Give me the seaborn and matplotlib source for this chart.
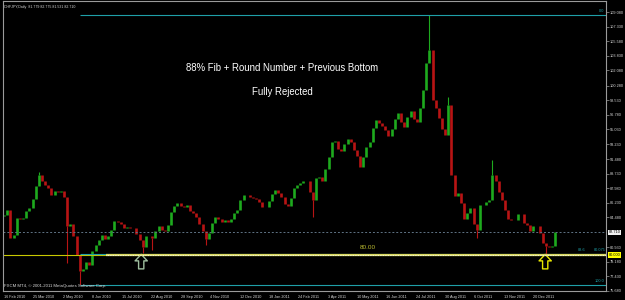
import matplotlib
matplotlib.use("Agg")
import matplotlib.pyplot as plt
import matplotlib.dates as mdates
from matplotlib.path import Path
import numpy as np
import pandas as pd
import seaborn as sns

# ---------------- data ----------------
symbol_header = "CHFJPY,Daily  81.779 82.775 81.531 82.710"
copyright_text = "FXCM MT4, \u00a9 2001-2011 MetaQuotes Software Corp."
title_line1 = "88% Fib + Round Number + Previous Bottom"
title_line2 = "Fully Rejected"

start_date = "2010-02-16"
sample_step = "4D"
first_open = 84.6
closes = [
    84.78, 85.38, 82.03, 82.40, 84.40, 84.30, 84.40, 85.25, 85.60, 86.70,
    88.25, 89.60, 88.85, 88.40, 88.00, 87.20, 87.65, 87.50, 87.65, 86.95,
    83.46, 83.70, 82.27, 80.00, 78.08, 78.30, 79.15, 78.80, 80.47, 81.20,
    81.80, 82.40, 81.90, 82.27, 83.00, 84.06, 83.94, 83.70, 83.22, 83.34,
    83.22, 83.22, 82.50, 81.80, 80.95, 82.27, 82.27, 82.00, 82.87, 83.46,
    83.00, 82.87, 83.58, 85.14, 85.86, 86.22, 85.86, 85.74, 85.98, 85.26,
    85.02, 84.54, 83.70, 82.87, 81.90, 82.60, 83.82, 84.54, 84.30, 83.94,
    84.18, 83.94, 84.30, 85.02, 85.38, 86.58, 87.20, 87.20, 86.93, 86.80,
    86.70, 86.34, 85.74, 85.74, 86.46, 87.30, 87.77, 87.41, 86.93, 86.10,
    85.86, 86.80, 88.00, 88.37, 88.60, 88.85, 88.85, 87.53, 86.58, 89.20,
    89.33, 88.85, 90.30, 91.72, 93.50, 93.64, 92.68, 92.44, 93.28, 93.88,
    93.50, 92.56, 91.84, 90.53, 91.72, 92.92, 93.52, 95.20, 96.15, 95.80,
    95.43, 94.96, 94.24, 95.07, 96.27, 97.00, 95.90, 95.31, 96.50, 97.23,
    96.27, 95.90, 97.60, 99.74, 102.97, 104.50, 98.55, 97.60, 96.40, 95.07,
    94.36, 97.95, 89.57, 87.05, 87.41, 86.22, 84.30, 85.02, 85.62, 83.70,
    83.00, 85.98, 85.98, 86.34, 86.58, 89.57, 88.85, 87.53, 86.58, 85.38,
    84.30, 84.18, 84.18, 84.90, 84.90, 83.82, 83.58, 82.87, 83.46, 83.46,
    82.63, 81.43, 81.07, 80.95, 81.07, 82.71,
]
spike_low_idx = [20, 24, 44, 47, 64, 98, 150, 172]
spike_low_val = [79.0, 76.40, 80.2, 80.6, 81.2, 84.5, 82.0, 80.1]
spike_high_idx = [11, 135, 141, 155]
spike_high_val = [89.9, 108.72, 98.9, 91.4]

fib_high = 108.72
fib_low = 76.40
fib_886 = 80.075
fib_start = "2010-05-23"
round_number = 80.00
zone_start = "2010-06-25"
zone_label = "80.00"
zone_label_date = "2011-05-24"
zone_label_price = 80.85
last_price = 82.71
arrow_dates = ["2010-08-09", "2012-01-04"]
arrow_price = 79.2

date_tick_labels = ["16 Feb 2010", "25 Mar 2010", "2 May 2010", "8 Jun 2010",
                    "15 Jul 2010", "22 Aug 2010", "28 Sep 2010", "4 Nov 2010",
                    "12 Dec 2010", "18 Jan 2011", "24 Feb 2011", "3 Apr 2011",
                    "10 May 2011", "16 Jun 2011", "24 Jul 2011", "30 Aug 2011",
                    "6 Oct 2011", "13 Nov 2011", "20 Dec 2011"]
price_ticks = [109.080, 107.330, 105.580, 103.830, 102.080, 100.280, 98.530,
               96.780, 95.030, 93.230, 91.480, 89.730, 87.980, 86.230, 84.480,
               80.930, 79.180, 77.430, 75.680]

# ---------------- style ----------------
sns.set_theme(style="dark", rc={
    "axes.facecolor": "#000000",
    "figure.facecolor": "#000000",
    "savefig.facecolor": "#000000",
    "axes.edgecolor": "#9a9a9a",
    "axes.grid": False,
})
plt.rcParams["font.family"] = ["Liberation Sans", "DejaVu Sans"]

UP = "#1eaa1e"
DOWN = "#b81414"
TEAL = "#1fa0a8"
YELLOW = "#c8c800"

fig = plt.figure(figsize=(6.25, 3.0), dpi=100)
ax = fig.add_axes([3 / 625, 9 / 300, 603 / 625, 290 / 300])

dates = pd.date_range(start_date, periods=len(closes), freq=sample_step)
x = mdates.date2num(dates)
c = np.array(closes)
o = np.concatenate([[first_open], c[:-1]])
cols = np.where(c >= o, UP, DOWN)

# candle bodies
ax.vlines(x, np.minimum(o, c), np.maximum(o, c), colors=cols, linewidth=1.9)
# wicks
for i, v in zip(spike_low_idx, spike_low_val):
    ax.vlines(x[i], v, min(o[i], c[i]), colors=cols[i], linewidth=0.8)
for i, v in zip(spike_high_idx, spike_high_val):
    ax.vlines(x[i], max(o[i], c[i]), v, colors=cols[i], linewidth=0.8)

x0 = mdates.date2num(pd.Timestamp(start_date)) - 1.5
x1 = x0 + 603 / 0.7875
ax.set_xlim(x0, x1)
ax.set_ylim(75.68, 110.40)

# horizontal objects
ax.axhline(last_price, color="#5f7385", lw=0.7, ls=(0, (2, 2)))
ax.axhline(round_number, color=YELLOW, lw=0.8)
fs = mdates.date2num(pd.Timestamp(fib_start))
zs = mdates.date2num(pd.Timestamp(zone_start))
for lvl in (fib_high, fib_low, fib_886):
    ax.hlines(lvl, fs, x1, colors=TEAL, lw=0.8)
ax.hlines(round_number, zs, x1, colors="#d8d860", lw=1.6)
ax.hlines(round_number, zs, x1, colors="#ffffff", lw=0.6, linestyles=(0, (1, 1)))

# fib labels
ax.text(x1 - 2, fib_high + 0.25, "0.0", color=TEAL, fontsize=2.8, ha="right", va="bottom")
ax.text(x1 - 2, fib_low + 0.2, "100.0", color=TEAL, fontsize=2.8, ha="right", va="bottom")
ax.text(x1 - 26, fib_886 + 0.3, "88.6", color=TEAL, fontsize=2.8, ha="right", va="bottom")
ax.text(x1 - 1, fib_886 + 0.3, "80.075", color=TEAL, fontsize=2.8, ha="right", va="bottom")
ax.text(mdates.date2num(pd.Timestamp(zone_label_date)), zone_label_price, zone_label,
        color="#b8b830", fontsize=4.6, ha="center", va="center")

# hollow up-arrow markers
arrow_path = Path([(-0.18, -0.5), (0.18, -0.5), (0.18, 0.05), (0.42, 0.05),
                   (0.0, 0.5), (-0.42, 0.05), (-0.18, 0.05), (-0.18, -0.5)],
                  closed=True)
arrow_df = pd.DataFrame({"date": pd.to_datetime(arrow_dates),
                         "price": [arrow_price] * len(arrow_dates),
                         "kind": ["first", "second"]})
sns.scatterplot(data=arrow_df, x="date", y="price", hue="kind",
                palette=["#9fbf9f", "#e8e800"], marker=arrow_path, s=110,
                facecolors="none", linewidth=1.0, legend=False, ax=ax)
for coll, col in zip(ax.collections[-1:], [None]):
    pass
ax.collections[-1].set_facecolor("none")
ax.collections[-1].set_edgecolor(["#9fbf9f", "#e8e800"])

# texts
ax.text(0.4627, 0.769, title_line1, transform=ax.transAxes, color="white",
        fontsize=6.9, ha="center", va="center")
ax.text(0.4627, 0.686, title_line2, transform=ax.transAxes, color="white",
        fontsize=6.9, ha="center", va="center")
ax.text(0.002, 0.985, symbol_header, transform=ax.transAxes, color="#d8d8d8",
        fontsize=2.6, ha="left", va="top")
ax.text(0.002, 0.012, copyright_text, transform=ax.transAxes, color="#d8d8d8",
        fontsize=3.1, ha="left", va="bottom")

# axes
ax.set_xlim(x0, x1)
ax.set_ylim(75.68, 110.40)
ax.set_xlabel("")
ax.set_ylabel("")
tick_dates = mdates.date2num(pd.to_datetime(date_tick_labels, format="%d %b %Y"))
ax.set_xticks(tick_dates)
ax.set_xticklabels(date_tick_labels, ha="left", fontsize=2.7, color="#d8d8d8")
ax.yaxis.tick_right()
ax.set_yticks(price_ticks)
ax.set_yticklabels([f"{p:.3f}" for p in price_ticks], fontsize=2.8, color="#d8d8d8")
ax.tick_params(axis="both", which="both", length=2, width=0.5, color="#9a9a9a",
               direction="out", pad=1)
ax.tick_params(axis="x", pad=0.8)
for s in ax.spines.values():
    s.set_color("#9a9a9a")
    s.set_linewidth(0.8)

ytr = ax.get_yaxis_transform()
ax.text(1.004, last_price, "82.710", transform=ytr, fontsize=2.8, color="black",
        ha="left", va="center",
        bbox=dict(facecolor="#f0f0f0", edgecolor="none", pad=0.5))
ax.text(1.004, round_number, "80.000", transform=ytr, fontsize=2.8, color="black",
        ha="left", va="center",
        bbox=dict(facecolor="#ffff00", edgecolor="none", pad=0.5))

fig.savefig("out.png", dpi=100)
